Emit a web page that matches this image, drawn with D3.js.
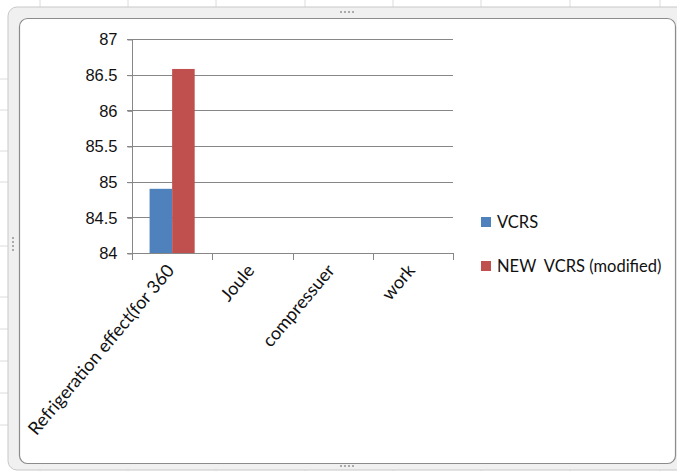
<!DOCTYPE html>
<html>
<head>
<meta charset="utf-8">
<script src="https://cdn.jsdelivr.net/npm/d3@7"></script>
<style>
  body { margin: 0; background: #fff; }
  svg { display: block; font-family: Lato, "Open Sans", sans-serif; }
</style>
</head>
<body>
<div id="chart"></div>
<script>
// chart data
const categories = ["Refrigeration effect(for 360", "Joule", "compressuer", "work"];
const seriesNames = ["VCRS", "NEW  VCRS (modified)"];
const vcrs = [84.9, null, null, null];
const newVcrs = [86.58, null, null, null];
const yTicks = [84, 84.5, 85, 85.5, 86, 86.5, 87];
const colors = ["#4f81bd", "#c0504d"];

const W = 677, H = 471;

const svg = d3.select("#chart").append("svg")
    .attr("width", W)
    .attr("height", H);

// spreadsheet background (cell lines around the chart object)
const cellX = [40, 128, 216, 305, 393, 481, 570, 660];
const cellY = [79, 110, 151, 182, 246, 297, 329, 361, 393, 425];
svg.selectAll(".cx").data(cellX).enter().append("line")
    .attr("x1", d => d).attr("x2", d => d)
    .attr("y1", 0).attr("y2", H)
    .attr("stroke", "#dcdcdc");
svg.selectAll(".cy").data(cellY).enter().append("line")
    .attr("x1", 0).attr("x2", W)
    .attr("y1", d => d).attr("y2", d => d)
    .attr("stroke", "#dcdcdc");

// selection frame
svg.append("rect")
    .attr("x", 8).attr("y", 7)
    .attr("width", W + 10).attr("height", 463)
    .attr("rx", 9)
    .attr("fill", "#f0f0f0")
    .attr("stroke", "#c8c8c8");

// chart area
svg.append("rect")
    .attr("x", 19.5).attr("y", 18.5)
    .attr("width", 656).attr("height", 445)
    .attr("rx", 8)
    .attr("fill", "#fff")
    .attr("stroke", "#8c8c8c")
    .attr("stroke-width", 1.2);

// handles (dots on the frame)
const handles = [[340, 12], [340, 466], [13, 237]];
handles.forEach(h => {
    for (let i = 0; i < 4; i++) {
        const horiz = h[0] !== 13;
        svg.append("rect")
            .attr("x", horiz ? h[0] + i * 4 : h[0] - 1)
            .attr("y", horiz ? h[1] - 1 : h[1] + i * 4)
            .attr("width", 2).attr("height", 2)
            .attr("fill", "#aaa");
    }
});

// scales
const x0 = d3.scaleBand().domain(categories).range([132, 453]);
const x1 = d3.scaleBand().domain(seriesNames)
    .range([0, x0.bandwidth()])
    .paddingOuter(0.78);
const y = d3.scaleLinear().domain([84, 87]).range([253, 39]);

const g = svg.append("g");

// gridlines
g.selectAll(".grid").data(yTicks.filter(d => d > 84)).enter().append("line")
    .attr("x1", 127).attr("x2", 453)
    .attr("y1", d => Math.round(y(d)) + 0.5).attr("y2", d => Math.round(y(d)) + 0.5)
    .attr("stroke", "#878787")
    .attr("stroke-width", 1);

// bars
const series = [vcrs, newVcrs];
series.forEach((vals, si) => {
    g.selectAll(".bar" + si)
        .data(categories.map((c, i) => ({ c: c, v: vals[i] })).filter(d => d.v != null))
        .enter().append("rect")
        .attr("x", d => x0(d.c) + x1(seriesNames[si]))
        .attr("y", d => y(d.v))
        .attr("width", x1.bandwidth())
        .attr("height", d => y(84) - y(d.v))
        .attr("fill", colors[si]);
});

// y axis
const yAxis = d3.axisLeft(y).tickValues(yTicks).tickSize(5).tickFormat(d3.format("")).tickPadding(10);
const yG = g.append("g").attr("transform", "translate(132.5,0.5)").call(yAxis);
yG.select(".domain").attr("stroke", "#878787").attr("d", `M0,${y(87) - 0.5}V${y(84)}`);
yG.selectAll(".tick line").attr("stroke", "#878787");
yG.selectAll(".tick text")
    .attr("fill", "#111")
    .style("font-size", "16.5px");

// x axis
g.append("line")
    .attr("x1", 127).attr("x2", 453)
    .attr("y1", 253.5).attr("y2", 253.5)
    .attr("stroke", "#878787");
const edges = categories.map(c => x0(c)).concat([453]);
g.selectAll(".xt").data(edges).enter().append("line")
    .attr("x1", d => Math.round(d) + 0.5).attr("x2", d => Math.round(d) + 0.5)
    .attr("y1", 253).attr("y2", 260)
    .attr("stroke", "#878787");

g.selectAll(".xl").data(categories).enter().append("text")
    .attr("transform", d => `translate(${x0(d) + x0.bandwidth() / 2 + 3},${271}) rotate(-50)`)
    .attr("text-anchor", "end")
    .attr("fill", "#111")
    .style("font-size", "18px")
    .text(d => d);

// legend
const legend = svg.append("g").attr("transform", "translate(481,215)");
seriesNames.forEach((s, i) => {
    const row = legend.append("g").attr("transform", `translate(0,${i * 44})`);
    row.append("rect").attr("width", 10).attr("height", 10).attr("y", 2).attr("fill", colors[i]);
    row.append("text")
        .attr("x", 16).attr("y", 12.5)
        .attr("fill", "#111")
        .style("font-size", "16.5px")
        .style("white-space", "pre")
        .attr("xml:space", "preserve")
        .text(s);
});
</script>
</body>
</html>
